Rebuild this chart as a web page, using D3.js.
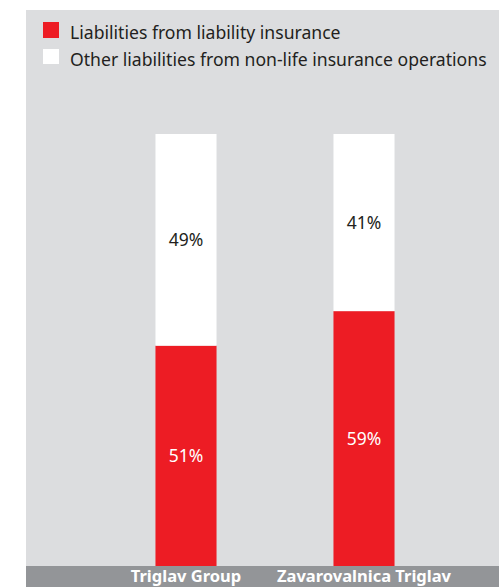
<!DOCTYPE html>
<html>
<head>
<meta charset="utf-8">
<script src="https://cdn.jsdelivr.net/npm/d3@7"></script>
<style>
  html, body { margin: 0; padding: 0; background: #ffffff; }
  svg { display: block; }
  text { font-family: "Noto Sans", "Open Sans", sans-serif; }
</style>
</head>
<body>
<svg id="chart" width="499" height="587"></svg>
<script>
// Shares of non-life insurance liabilities (percent)
const categories = ["Triglav Group", "Zavarovalnica Triglav"];
const liabilityInsurance = [51, 59];
const otherLiabilities = [49, 41];
const seriesNames = [
  "Liabilities from liability insurance",
  "Other liabilities from non-life insurance operations"
];
const colors = ["#ed1c24", "#ffffff"];

const W = 499, H = 587;
const panel = { left: 26, top: 10, bottom: 566 };
const svg = d3.select("#chart");

// grey panel
svg.append("rect")
  .attr("x", panel.left).attr("y", panel.top)
  .attr("width", W - panel.left).attr("height", panel.bottom - panel.top)
  .attr("fill", "#dcdddf");

// scales
const pad = 0.657;
const x = d3.scaleBand()
  .domain(categories)
  .range([97, 453])
  .paddingInner(pad)
  .paddingOuter(pad / 2);

const y = d3.scaleLinear().domain([0, 100]).range([panel.bottom, 134]);

const rows = categories.map((c, i) => ({
  category: c,
  liab: liabilityInsurance[i],
  other: otherLiabilities[i]
}));
const stacked = d3.stack().keys(["liab", "other"])(rows);

const groups = svg.append("g").selectAll("g")
  .data(stacked)
  .join("g")
  .attr("fill", (d, i) => colors[i]);

groups.selectAll("rect")
  .data(d => d)
  .join("rect")
  .attr("x", d => x(d.data.category))
  .attr("width", x.bandwidth())
  .attr("y", d => y(d[1]))
  .attr("height", d => y(d[0]) - y(d[1]));

// value labels, centred in each segment
groups.each(function(layer, li) {
  d3.select(this).selectAll("text")
    .data(layer)
    .join("text")
    .attr("x", d => x(d.data.category) + x.bandwidth() / 2)
    .attr("y", d => (y(d[0]) + y(d[1])) / 2)
    .attr("dy", "0.35em")
    .attr("text-anchor", "middle")
    .attr("font-size", 17.5)
    .attr("fill", li === 0 ? "#ffffff" : "#231f20")
    .text(d => (d[1] - d[0]) + "%");
});

// bottom category band
svg.append("rect")
  .attr("x", panel.left).attr("y", panel.bottom)
  .attr("width", W - panel.left).attr("height", H - panel.bottom)
  .attr("fill", "#939598");

const xAxis = d3.axisBottom(x).tickSize(0).tickPadding(0);
const axisG = svg.append("g")
  .attr("transform", `translate(0, ${panel.bottom})`)
  .call(xAxis);
axisG.select(".domain").remove();
axisG.selectAll("text")
  .attr("y", 16)
  .attr("dy", 0)
  .attr("font-size", 16.5)
  .attr("font-weight", "bold")
  .attr("font-family", "'Noto Sans', sans-serif")
  .attr("fill", "#ffffff");

// legend
const legend = svg.append("g");
const legendRows = legend.selectAll("g")
  .data(seriesNames)
  .join("g")
  .attr("transform", (d, i) => `translate(43, ${22 + i * 27})`);
legendRows.append("rect")
  .attr("width", 16).attr("height", (d, i) => i === 0 ? 16 : 15)
  .attr("fill", (d, i) => colors[i]);
legendRows.append("text")
  .attr("x", 27).attr("y", 16.5)
  .attr("font-size", 17.6)
  .attr("fill", "#231f20")
  .text(d => d);
</script>
</body>
</html>
